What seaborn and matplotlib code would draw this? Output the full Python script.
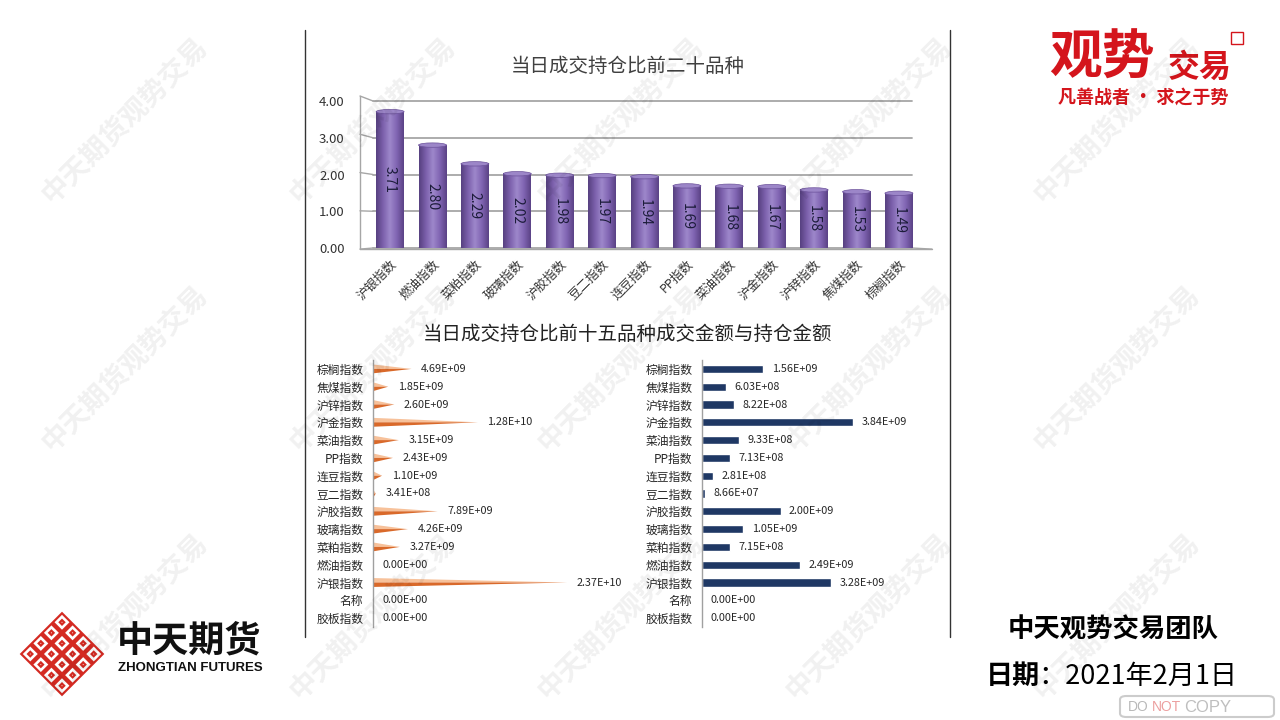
import numpy as np
import pandas as pd
import matplotlib
matplotlib.use("Agg")
import matplotlib.pyplot as plt
import seaborn as sns
from matplotlib.patches import Polygon, Ellipse, Rectangle, FancyBboxPatch
from matplotlib.colors import LinearSegmentedColormap
from matplotlib.lines import Line2D
import matplotlib.transforms as mtransforms

# ---------------- data ----------------
top_categories = ["沪银指数", "燃油指数", "菜粕指数", "玻璃指数", "沪胶指数", "豆二指数", "连豆指数",
                  "PP指数", "菜油指数", "沪金指数", "沪锌指数", "焦煤指数", "棕榈指数"]
top_values = [3.71, 2.80, 2.29, 2.02, 1.98, 1.97, 1.94, 1.69, 1.68, 1.67, 1.58, 1.53, 1.49]
top_yticks = [0, 1, 2, 3, 4]

bottom_categories = ["棕榈指数", "焦煤指数", "沪锌指数", "沪金指数", "菜油指数", "PP指数", "连豆指数",
                     "豆二指数", "沪胶指数", "玻璃指数", "菜粕指数", "燃油指数", "沪银指数", "名称", "胶板指数"]
turnover_values = [4.69e9, 1.85e9, 2.60e9, 1.28e10, 3.15e9, 2.43e9, 1.10e9, 3.41e8, 7.89e9,
                   4.26e9, 3.27e9, 0.0, 2.37e10, 0.0, 0.0]
holding_values = [1.56e9, 6.03e8, 8.22e8, 3.84e9, 9.33e8, 7.13e8, 2.81e8, 8.66e7, 2.00e9,
                  1.05e9, 7.15e8, 2.49e9, 3.28e9, 0.0, 0.0]

top_title = "当日成交持仓比前二十品种"
bottom_title = "当日成交持仓比前十五品种成交金额与持仓金额"

# ---------------- style ----------------
sns.set_style("white")
plt.rcParams['font.family'] = ['Noto Sans CJK SC', 'DejaVu Sans']
plt.rcParams['axes.unicode_minus'] = False

W, H = 1280, 720
fig = plt.figure(figsize=(12.8, 7.2), dpi=100)
fig.patch.set_facecolor('white')


def rect(l, t, r, b):
    return [l / W, 1 - b / H, (r - l) / W, (b - t) / H]


def fx(x):
    return x / W


def fy(y):
    return 1 - y / H


# ---------------- top chart ----------------
ax = fig.add_axes(rect(360, 101, 932, 248))
ax.patch.set_alpha(0)
df_top = pd.DataFrame({"cat": top_categories, "val": top_values})
sns.barplot(data=df_top, x="cat", y="val", ax=ax, color="#7E62AE", width=0.66,
            order=top_categories, errorbar=None, saturation=1)
bars = list(ax.patches)
cyl = LinearSegmentedColormap.from_list("cyl", ["#56407F", "#7C60AC", "#9E88CB", "#8064B2", "#5A4285"])
grad = np.linspace(0, 1, 128).reshape(1, -1)
for p, v in zip(bars, top_values):
    x0 = p.get_x()
    w = p.get_width()
    h = p.get_height()
    p.set_facecolor('none')
    p.set_edgecolor('none')
    ax.imshow(grad, extent=[x0, x0 + w, 0, h], aspect='auto', cmap=cyl, zorder=2,
              interpolation='bicubic')
    ax.add_patch(Ellipse((x0 + w / 2, 0), w, 0.12, facecolor="#5A4289", edgecolor='none', zorder=1.9))
    ax.add_patch(Ellipse((x0 + w / 2, h), w, 0.12, facecolor="#9C86C8", edgecolor="#6B519A",
                         lw=0.5, zorder=3))
    ax.text(x0 + w / 2, h / 2, f"{v:.2f}", rotation=270, ha='center', va='center',
            fontsize=10, color='#1C1C3A', zorder=4)

ytr = ax.get_yaxis_transform()
grid_c = '#A6A6A6'
for v in top_yticks:
    d = -0.03 + v * 0.0415
    ax.plot([0.0227, 0.965], [v, v], transform=ytr, color=grid_c, lw=1.3, zorder=1, clip_on=False)
    ax.plot([0, 0.0227], [v + d, v], transform=ytr, color=grid_c, lw=1.0, zorder=1, clip_on=False)
ax.plot([0, 0], [-0.03, 4 + 0.136], transform=ytr, color=grid_c, lw=1.0, zorder=1, clip_on=False)
ax.plot([0, 1.0], [-0.03, -0.03], transform=ytr, color=grid_c, lw=1.0, zorder=1, clip_on=False)
ax.plot([0.965, 1.0], [0, -0.03], transform=ytr, color=grid_c, lw=1.0, zorder=1, clip_on=False)

ax.set_xlim(-0.71, 12.78)
ax.set_ylim(0, 4)
ax.set_yticks(top_yticks)
ax.set_yticklabels([f"{v:.2f}" for v in top_yticks], fontsize=9.5, color='#333333')
ax.set_xticks(range(len(top_categories)))
ax.set_xticklabels(top_categories, rotation=45, ha='right', rotation_mode='anchor',
                   fontsize=9, color='#333333')
ax.tick_params(axis='y', length=0, pad=11)
ax.tick_params(axis='x', length=0, pad=7)
ax.set_xlabel('')
ax.set_ylabel('')
for s in ax.spines.values():
    s.set_visible(False)

fig.text(fx(628), fy(66), top_title, ha='center', va='center', fontsize=14, color='#404040')
fig.text(fx(628), fy(335), bottom_title, ha='center', va='center', fontsize=14, color='#222222')

# ---------------- bottom charts ----------------
df_b = pd.DataFrame({"cat": bottom_categories, "turn": turnover_values, "hold": holding_values})

axL = fig.add_axes(rect(373, 360, 630, 627))
axL.patch.set_alpha(0)
sns.barplot(data=df_b, y="cat", x="turn", ax=axL, orient='h', order=bottom_categories,
            color='#E07B39', errorbar=None, width=0.5, saturation=1)
lbars = list(axL.patches)
for p, v in zip(lbars, turnover_values):
    yc = p.get_y() + p.get_height() / 2
    hh = p.get_height() / 2
    w = p.get_width()
    p.set_visible(False)
    if w > 0:
        axL.add_patch(Polygon([(0, yc - hh), (w, yc), (0, yc)], closed=True,
                              facecolor='#F7C19A', edgecolor='none'))
        axL.add_patch(Polygon([(0, yc), (w, yc), (0, yc + hh)], closed=True,
                              facecolor='#D9692A', edgecolor='none'))
    axL.annotate(f"{v:.2E}", xy=(w, yc), xytext=(7, 0), textcoords='offset points',
                 ha='left', va='center', fontsize=7.8, color='#262626')
axL.set_xlim(0, 3.14e10)
axL.set_ylim(14.5, -0.5)

axR = fig.add_axes(rect(702, 360, 932, 627))
axR.patch.set_alpha(0)
sns.barplot(data=df_b, y="cat", x="hold", ax=axR, orient='h', order=bottom_categories,
            color='#1F3864', errorbar=None, width=0.45, saturation=1)
for p, v in zip(list(axR.patches), holding_values):
    yc = p.get_y() + p.get_height() / 2
    axR.annotate(f"{v:.2E}", xy=(p.get_width(), yc), xytext=(6, 0), textcoords='offset points',
                 ha='left', va='center', fontsize=7.8, color='#262626')
axR.set_xlim(0, 5.85e9)
axR.set_ylim(14.5, -0.5)

for a in (axL, axR):
    a.set_xlabel('')
    a.set_ylabel('')
    a.set_xticks([])
    for k, s in a.spines.items():
        s.set_visible(k == 'left')
    a.spines['left'].set_color('#A0A0A0')
    a.spines['left'].set_linewidth(1)
    a.tick_params(axis='y', length=0, pad=7, labelsize=8.5, labelcolor='#262626')

# ---------------- frame lines ----------------
for xx in (305, 950):
    fig.add_artist(Line2D([fx(xx), fx(xx)], [fy(30), fy(637)], color='#333333', lw=1))

# ---------------- logos / text ----------------
red = '#D4151C'
fig.text(fx(1102), fy(58), "观势", ha='center', va='center', fontsize=38, fontweight='bold', color=red)
fig.text(fx(1200), fy(68), "交易", ha='center', va='center', fontsize=23, fontweight='bold', color=red)
fig.text(fx(1143), fy(97), "凡善战者 · 求之于势", ha='center', va='center', fontsize=13,
         fontweight='bold', color=red)
fig.add_artist(Rectangle((fx(1231), fy(44)), 12 / W, 12 / H, facecolor='none', edgecolor=red, lw=1))

# ZhongTian logo diamond
axl = fig.add_axes(rect(18, 610, 106, 698))
axl.set_xlim(-1, 1)
axl.set_ylim(-1, 1)
axl.set_aspect('equal')
axl.axis('off')
rot = mtransforms.Affine2D().rotate_deg(45) + axl.transData
axl.add_patch(Rectangle((-0.68, -0.68), 1.36, 1.36, facecolor='#D42A22', edgecolor='none', transform=rot))
step = 1.36 / 4
for i in range(4):
    for j in range(4):
        x0 = -0.68 + i * step + 0.05
        y0 = -0.68 + j * step + 0.05
        axl.add_patch(Rectangle((x0, y0), step - 0.1, step - 0.1, facecolor='white',
                                edgecolor='none', transform=rot))
        axl.add_patch(Rectangle((x0 + 0.06, y0 + 0.06), step - 0.22, step - 0.22, facecolor='#D42A22',
                                edgecolor='none', transform=rot))
        axl.add_patch(Rectangle((x0 + 0.11, y0 + 0.11), step - 0.32, step - 0.32, facecolor='white',
                                edgecolor='none', transform=rot))

fig.text(fx(117), fy(641), "中天期货", ha='left', va='center', fontsize=26, fontweight='bold', color='#111111')
fig.text(fx(118), fy(668), "ZHONGTIAN FUTURES", ha='left', va='center', fontsize=9.5, fontweight='bold',
         color='#111111', family=['Liberation Sans', 'DejaVu Sans'])

fig.text(fx(1113), fy(630), "中天观势交易团队", ha='center', va='center', fontsize=19,
         fontweight='bold', color='#000000')
fig.text(fx(986), fy(676), "日期", ha='left', va='center', fontsize=19.5, fontweight='bold', color='#000000')
fig.text(fx(1038), fy(676), "：2021年2月1日", ha='left', va='center', fontsize=19.5, color='#000000')

# DO NOT COPY stamp (faint overlay, kept below the date line)
fig.add_artist(FancyBboxPatch((fx(1120), fy(717)), 154 / W, 21 / H,
                              boxstyle="round,pad=0,rounding_size=0.005", facecolor='none',
                              edgecolor='#9A9A9A', lw=1.5, alpha=0.5))
fig.text(fx(1128), fy(707), "DO", ha='left', va='center', fontsize=10, color='#8A8A8A', alpha=0.6,
         family=['Liberation Sans', 'DejaVu Sans'])
fig.text(fx(1152), fy(707), "NOT", ha='left', va='center', fontsize=10, color='#E06060', alpha=0.6,
         family=['Liberation Sans', 'DejaVu Sans'])
fig.text(fx(1184), fy(707), "COPY", ha='left', va='center', fontsize=12, color='#8A8A8A', alpha=0.55,
         family=['Liberation Sans', 'DejaVu Sans'])

# watermarks
for i in range(5):
    for j in range(3):
        fig.text(fx(125 + 248 * i), fy(120 + 248 * j), "中天期货观势交易", rotation=45,
                 ha='center', va='center', fontsize=20, fontweight='bold', color='#000000',
                 alpha=0.06, zorder=10)

fig.savefig("out.png", dpi=100)
